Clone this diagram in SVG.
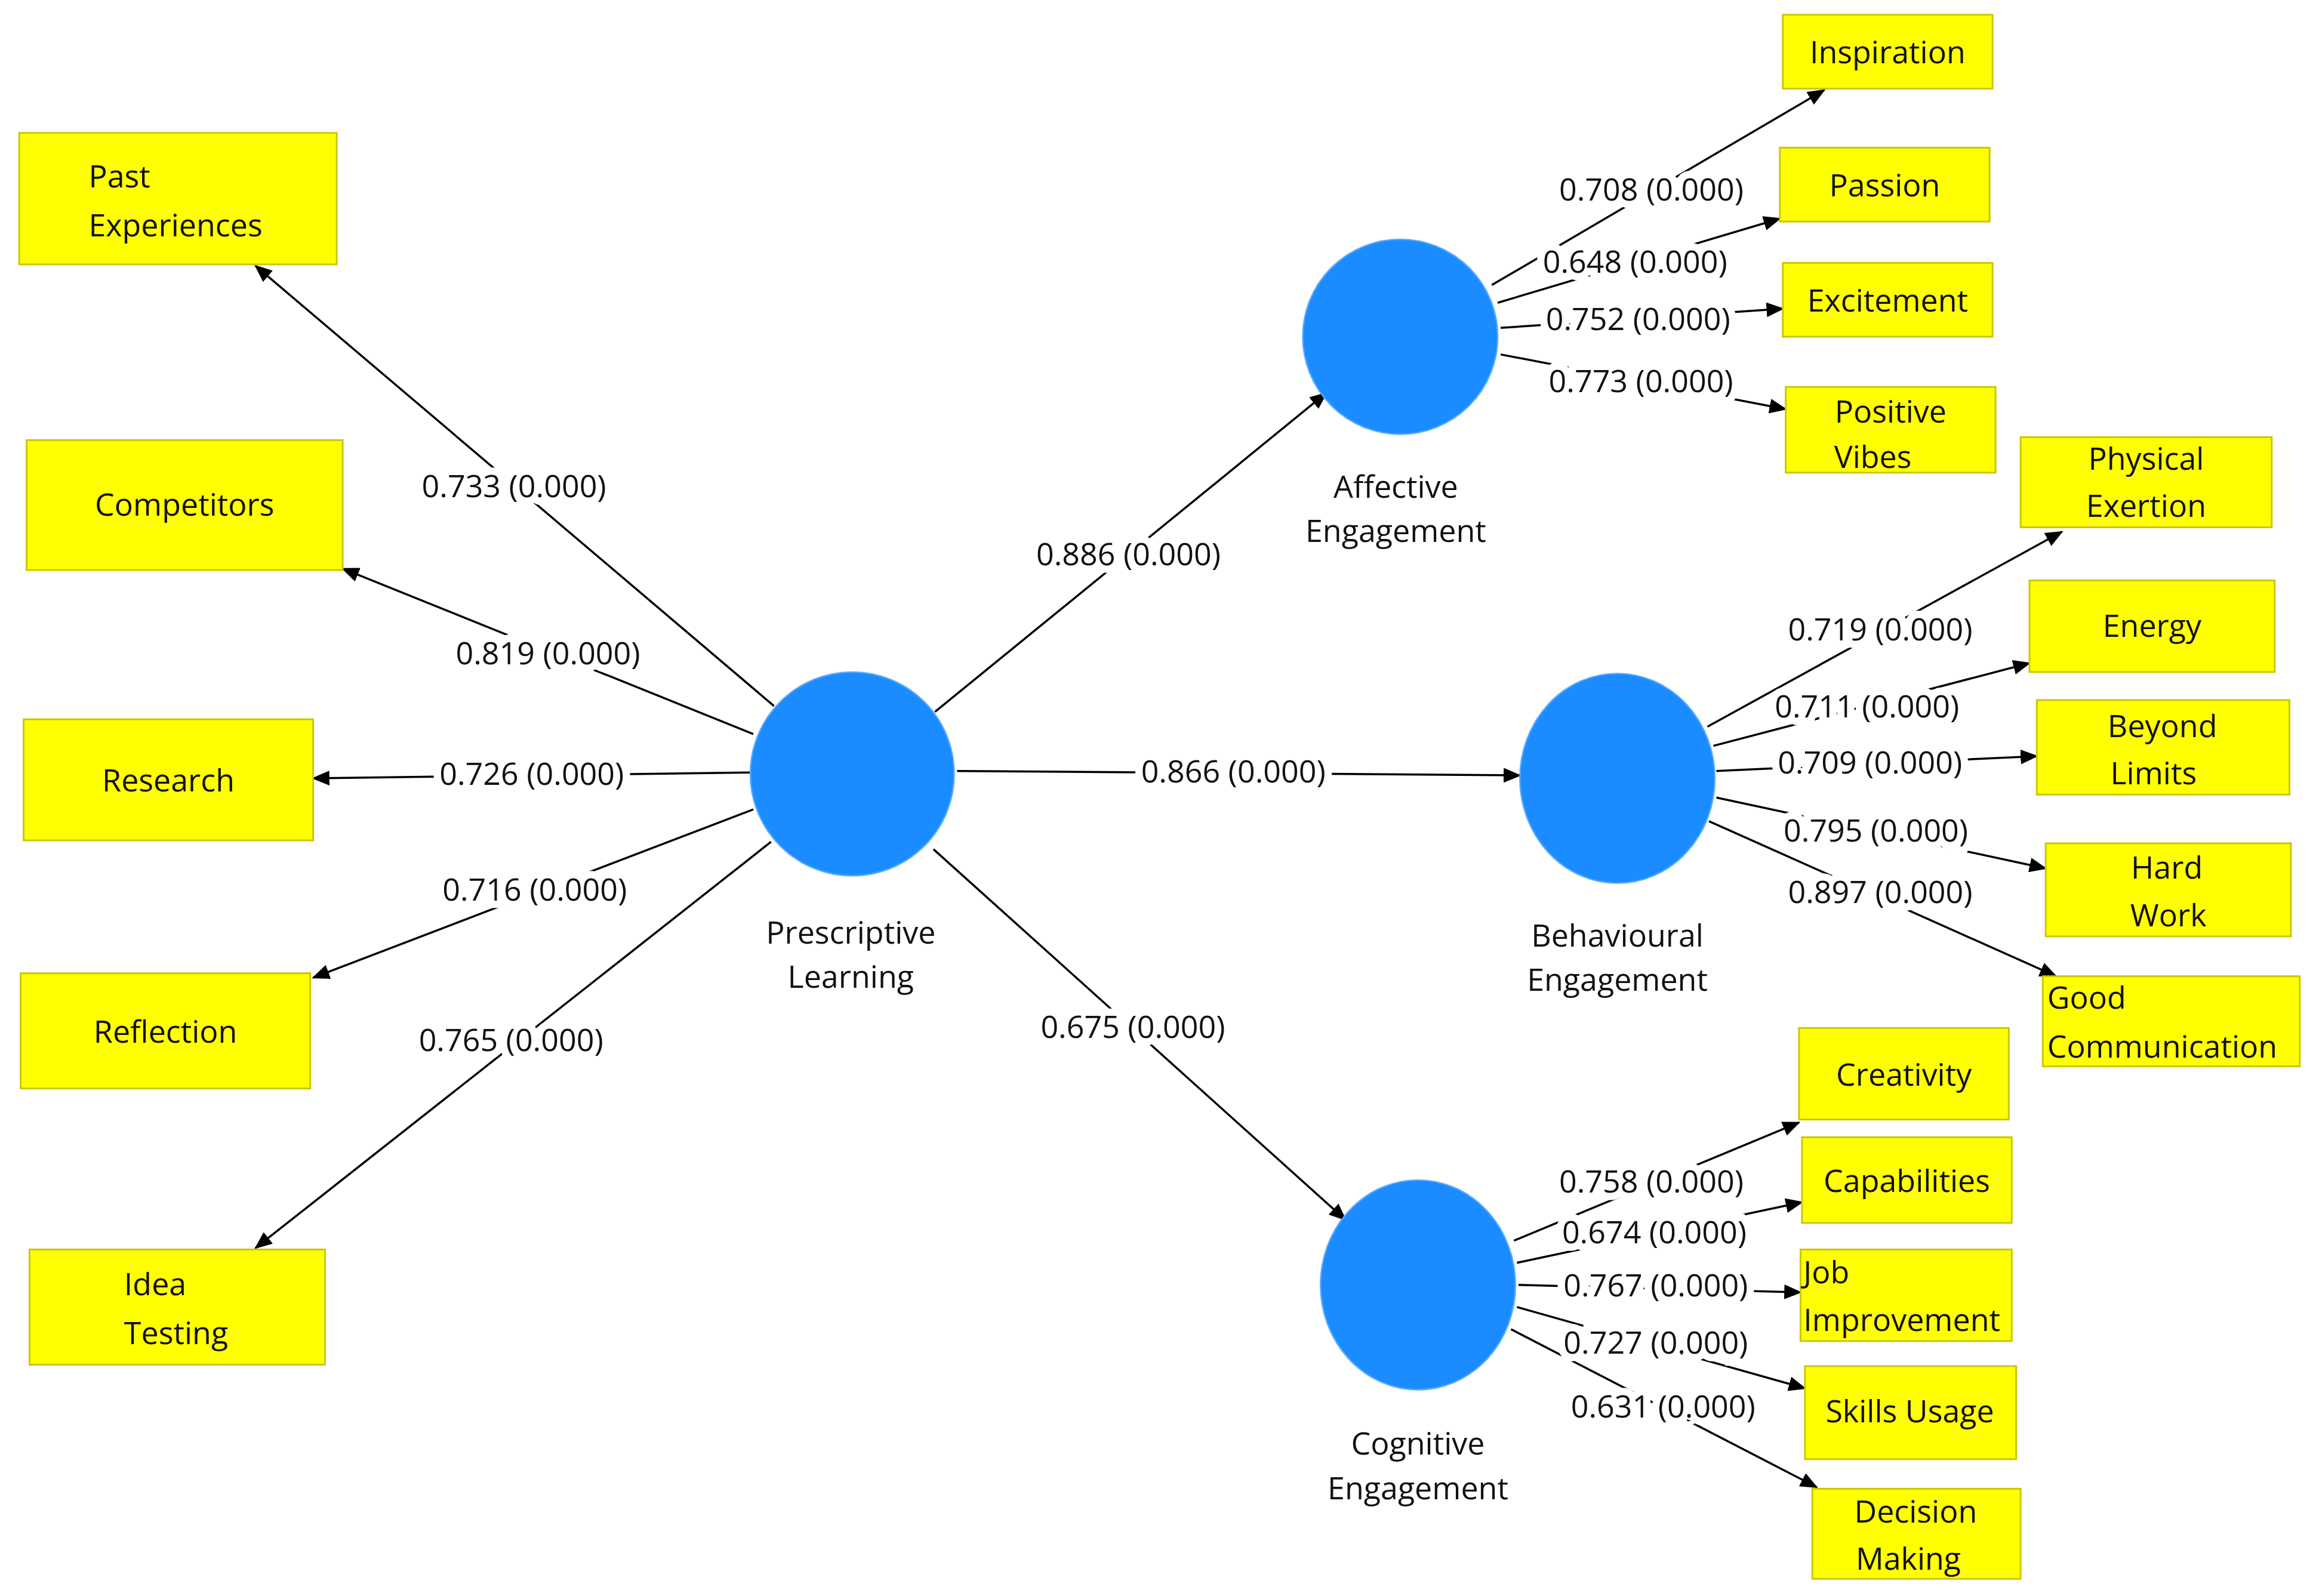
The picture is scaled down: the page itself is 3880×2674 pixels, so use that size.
<svg xmlns="http://www.w3.org/2000/svg" width="3880" height="2674" viewBox="0 0 3880 2674">
<style>
.b{fill:#ffff00;stroke:#c8c800;stroke-width:1.2}
.c{fill:#1a8cff;stroke:#5aaaff;stroke-width:1}
text{font-family:"Open Sans","Liberation Sans",sans-serif;font-size:21px;fill:#111}
.t{text-anchor:middle}
.l{text-anchor:middle;stroke:#fff;stroke-width:10;paint-order:stroke;dominant-baseline:middle}
.e line{stroke:#000;stroke-width:1.4;marker-end:url(#a)}
</style>
<defs><marker id="a" markerWidth="12" markerHeight="10" refX="11" refY="5" orient="auto" markerUnits="userSpaceOnUse"><path d="M0,0L12,5L0,10z" fill="#000"/></marker></defs>
<rect width="3880" height="2674" fill="#fff"/>
<g transform="scale(2.4745)">
<g id="connectors" class="e">
<line x1="524" y1="478" x2="173" y2="180"/>
<line x1="510" y1="497" x2="232" y2="385"/>
<line x1="508" y1="523" x2="212" y2="527"/>
<line x1="510" y1="548" x2="212" y2="662"/>
<line x1="522" y1="570" x2="173" y2="845"/>
<line x1="633" y1="482" x2="898" y2="266"/>
<line x1="648" y1="522" x2="1029" y2="525"/>
<line x1="632" y1="575" x2="911" y2="826"/>
<line x1="1010" y1="193" x2="1235" y2="61"/>
<line x1="1014" y1="205" x2="1205" y2="148"/>
<line x1="1016" y1="222" x2="1207" y2="209"/>
<line x1="1016" y1="240" x2="1209" y2="277"/>
<line x1="1156" y1="492" x2="1396" y2="360"/>
<line x1="1160" y1="505" x2="1374" y2="449"/>
<line x1="1162" y1="522" x2="1379" y2="512"/>
<line x1="1162" y1="540" x2="1385" y2="588"/>
<line x1="1157" y1="556" x2="1392" y2="661"/>
<line x1="1025" y1="840" x2="1218" y2="760"/>
<line x1="1027" y1="855" x2="1220" y2="814"/>
<line x1="1028" y1="870" x2="1219" y2="875"/>
<line x1="1027" y1="885" x2="1222" y2="940"/>
<line x1="1023" y1="900" x2="1230" y2="1007"/>
</g>
<g id="labels">
<text class="l" x="348" y="331">0.733 (0.000)</text>
<text class="l" x="371" y="444">0.819 (0.000)</text>
<text class="l" x="360" y="526">0.726 (0.000)</text>
<text class="l" x="362" y="604">0.716 (0.000)</text>
<text class="l" x="346" y="706">0.765 (0.000)</text>
<text class="l" x="764" y="377">0.886 (0.000)</text>
<text class="l" x="835" y="524">0.866 (0.000)</text>
<text class="l" x="767" y="697">0.675 (0.000)</text>
<text class="l" x="1118" y="130">0.708 (0.000)</text>
<text class="l" x="1107" y="179">0.648 (0.000)</text>
<text class="l" x="1109" y="218">0.752 (0.000)</text>
<text class="l" x="1111" y="260">0.773 (0.000)</text>
<text class="l" x="1273" y="428">0.719 (0.000)</text>
<text class="l" x="1264" y="480">0.711 (0.000)</text>
<text class="l" x="1266" y="518">0.709 (0.000)</text>
<text class="l" x="1270" y="564">0.795 (0.000)</text>
<text class="l" x="1273" y="606">0.897 (0.000)</text>
<text class="l" x="1118" y="802">0.758 (0.000)</text>
<text class="l" x="1120" y="836">0.674 (0.000)</text>
<text class="l" x="1121" y="872">0.767 (0.000)</text>
<text class="l" x="1121" y="911">0.727 (0.000)</text>
<text class="l" x="1126" y="954">0.631 (0.000)</text>
</g>
<g id="prescriptive"><circle class="c" cx="577" cy="524" r="69"/><text class="t" x="576" y="639">Prescriptive</text><text class="t" x="576" y="669">Learning</text></g>
<g id="affective"><circle class="c" cx="948" cy="228" r="66"/><text class="t" x="945" y="337">Affective</text><text class="t" x="945" y="367">Engagement</text></g>
<g id="behavioural"><ellipse class="c" cx="1095" cy="527" rx="66" ry="71"/><text class="t" x="1095" y="641">Behavioural</text><text class="t" x="1095" y="671">Engagement</text></g>
<g id="cognitive"><ellipse class="c" cx="960" cy="870" rx="66" ry="71"/><text class="t" x="960" y="985">Cognitive</text><text class="t" x="960" y="1015">Engagement</text></g>
<g id="past"><rect class="b" x="13" y="90" width="215" height="89"/><text x="60" y="127">Past</text><text x="60" y="160">Experiences</text></g>
<g id="competitors"><rect class="b" x="18" y="298" width="214" height="88"/><text class="t" x="125" y="349">Competitors</text></g>
<g id="research"><rect class="b" x="16" y="487" width="196" height="82"/><text class="t" x="114" y="536">Research</text></g>
<g id="reflection"><rect class="b" x="14" y="659" width="196" height="78"/><text class="t" x="112" y="706">Reflection</text></g>
<g id="idea"><rect class="b" x="20" y="846" width="200" height="78"/><text x="84" y="877">Idea</text><text x="84" y="910">Testing</text></g>
<g id="inspiration"><rect class="b" x="1207" y="10" width="142" height="50"/><text class="t" x="1278" y="43">Inspiration</text></g>
<g id="passion"><rect class="b" x="1205" y="100" width="142" height="50"/><text class="t" x="1276" y="133">Passion</text></g>
<g id="excitement"><rect class="b" x="1207" y="178" width="142" height="50"/><text class="t" x="1278" y="211">Excitement</text></g>
<g id="positive"><rect class="b" x="1209" y="262" width="142" height="58"/><text class="t" x="1280" y="286">Positive</text><text class="t" x="1268" y="317">Vibes</text></g>
<g id="physical"><rect class="b" x="1368" y="296" width="170" height="61"/><text class="t" x="1453" y="318">Physical</text><text class="t" x="1453" y="350">Exertion</text></g>
<g id="energy"><rect class="b" x="1374" y="393" width="166" height="62"/><text class="t" x="1457" y="431">Energy</text></g>
<g id="beyond"><rect class="b" x="1379" y="474" width="171" height="64"/><text class="t" x="1464" y="499">Beyond</text><text class="t" x="1458" y="531">Limits</text></g>
<g id="hard"><rect class="b" x="1385" y="571" width="166" height="63"/><text class="t" x="1467" y="595">Hard</text><text class="t" x="1468" y="627">Work</text></g>
<g id="good"><rect class="b" x="1383" y="661" width="174" height="61"/><text x="1386" y="683">Good</text><text x="1386" y="716">Communication</text></g>
<g id="creativity"><rect class="b" x="1218" y="696" width="142" height="62"/><text class="t" x="1289" y="735">Creativity</text></g>
<g id="capabilities"><rect class="b" x="1220" y="770" width="142" height="58"/><text class="t" x="1291" y="807">Capabilities</text></g>
<g id="job"><rect class="b" x="1219" y="846" width="143" height="62"/><text x="1221" y="869">Job</text><text x="1221" y="901">Improvement</text></g>
<g id="skills"><rect class="b" x="1222" y="925" width="143" height="63"/><text class="t" x="1293" y="963">Skills Usage</text></g>
<g id="decision"><rect class="b" x="1227" y="1008" width="141" height="61"/><text class="t" x="1297" y="1031">Decision</text><text class="t" x="1292" y="1063">Making</text></g>
</g>
</svg>
